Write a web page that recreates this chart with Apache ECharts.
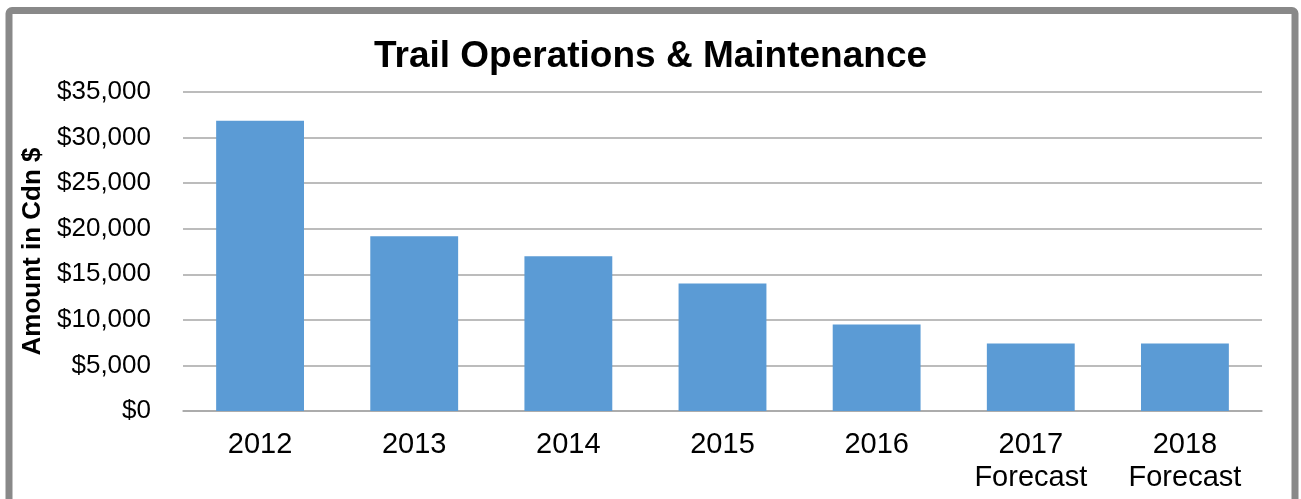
<!DOCTYPE html>
<html>
<head>
<meta charset="utf-8">
<script src="https://cdn.jsdelivr.net/npm/echarts@6/dist/echarts.min.js"></script>
<style>
html,body{margin:0;padding:0;background:#fff;}
#chart{width:1301px;height:499px;}
</style>
</head>
<body>
<div id="chart"></div>
<script>
const categories = ['2012', '2013', '2014', '2015', '2016', '2017\nForecast', '2018\nForecast'];
const amounts = [31850, 19180, 16980, 14000, 9500, 7400, 7400];
const yTicks = [0, 5000, 10000, 15000, 20000, 25000, 30000, 35000];
const titleText = 'Trail Operations & Maintenance';
const yAxisName = 'Amount in Cdn $';

const FONT = '"Liberation Sans", Arial, sans-serif';
const chart = echarts.init(document.getElementById('chart'), null, {renderer: 'canvas'});

chart.setOption({
  animation: false,
  backgroundColor: '#ffffff',
  title: {
    text: titleText,
    left: 'center',
    top: 33,
    textStyle: {fontFamily: FONT, fontSize: 37, fontWeight: 'bold', color: '#000'}
  },
  graphic: [{
    type: 'rect',
    shape: {x: 9, y: 10.5, width: 1286, height: 600, r: 3},
    style: {fill: 'none', stroke: '#898989', lineWidth: 7},
    silent: true,
    z: 100
  }],
  grid: {left: 183, right: 39, top: 92, bottom: 88, containLabel: false},
  xAxis: {
    type: 'category',
    data: categories,
    axisLine: {show: true, lineStyle: {color: '#a6a6a6', width: 1.5}},
    axisTick: {show: false},
    axisLabel: {
      fontFamily: FONT, fontSize: 29, color: '#000', margin: 17, lineHeight: 33,
      interval: 0
    }
  },
  yAxis: {
    type: 'value',
    min: yTicks[0],
    max: yTicks[yTicks.length - 1],
    interval: yTicks[1] - yTicks[0],
    name: yAxisName,
    nameLocation: 'middle',
    nameRotate: 90,
    nameGap: 137,
    nameTextStyle: {fontFamily: FONT, fontSize: 26, fontWeight: 'bold', color: '#000'},
    axisLine: {show: false},
    axisTick: {show: false},
    splitLine: {lineStyle: {color: '#a6a6a6', width: 1.5}},
    axisLabel: {
      fontFamily: FONT, fontSize: 26, color: '#000', margin: 32,
      formatter: v => '$' + v.toLocaleString('en-US')
    }
  },
  series: [{
    type: 'bar',
    data: amounts,
    barWidth: '57%',
    itemStyle: {color: '#5b9bd5'}
  }]
});
</script>
</body>
</html>
